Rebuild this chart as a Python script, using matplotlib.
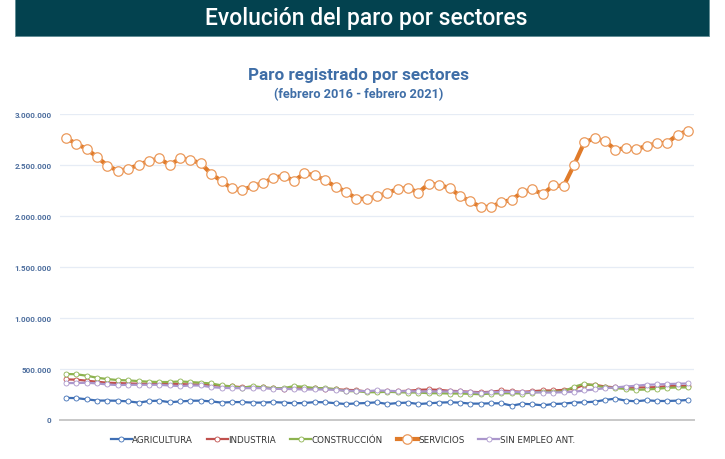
"""
Paro registrado por sectores (febrero 2016 - febrero 2021)
Line chart with one series per sector, values read off the reference.
"""

import matplotlib
matplotlib.use("Agg")
import matplotlib.pyplot as plt
from matplotlib.patches import Rectangle
from matplotlib.ticker import FuncFormatter, MultipleLocator

#####################################
# Data (thousands of people, monthly, feb-2016 .. feb-2021)
#####################################

agricultura = [
    212, 210, 198, 186, 186, 184, 178, 166, 181, 185, 170, 177, 184, 185, 178,
    166, 171, 171, 166, 166, 171, 166, 160, 162, 171, 169, 160, 152, 158,
    162, 169, 152, 162, 166, 152, 159, 166, 169, 166, 156, 156, 159, 159, 136,
    155, 149, 139, 152, 156, 166, 169, 175, 192, 205, 185, 179, 189, 182, 182, 185, 192,
]
industria = [
    394, 391, 381, 371, 361, 358, 354, 351, 351, 348, 351, 348, 344, 344, 341,
    330, 325, 318, 318, 315, 305, 298, 305, 308, 305, 301, 298, 291, 288,
    275, 278, 278, 278, 282, 291, 295, 291, 282, 278, 272, 268, 272, 285, 278,
    272, 278, 285, 285, 291, 301, 341, 341, 324, 315, 308, 315, 315, 318, 328, 328, 330,
]
construccion = [
    447, 444, 430, 410, 397, 387, 384, 377, 371, 368, 368, 374, 368, 361, 354,
    335, 325, 311, 328, 315, 308, 308, 328, 321, 308, 308, 298, 278, 278,
    268, 268, 272, 268, 265, 265, 258, 258, 255, 255, 252, 248, 255, 258, 258,
    255, 265, 272, 272, 275, 321, 351, 334, 315, 308, 301, 291, 295, 301, 311, 315, 315,
]
servicios = [
    2764, 2708, 2656, 2577, 2492, 2443, 2459, 2502, 2538, 2564, 2498, 2564, 2551, 2515, 2413,
    2341, 2269, 2252, 2292, 2321, 2374, 2393, 2344, 2416, 2400, 2347, 2288, 2236, 2170,
    2164, 2193, 2223, 2265, 2272, 2229, 2315, 2305, 2272, 2197, 2141, 2088, 2088, 2134, 2157,
    2233, 2259, 2213, 2298, 2292, 2498, 2721, 2761, 2734, 2649, 2666, 2652, 2688, 2711, 2718,
    2797, 2836,
]
sin_empleo = [
    358, 358, 361, 354, 344, 338, 341, 341, 341, 341, 334, 328, 334, 334, 318,
    311, 308, 308, 308, 308, 301, 301, 298, 295, 295, 295, 291, 282, 282,
    278, 285, 282, 278, 278, 275, 275, 275, 275, 275, 268, 262, 268, 272, 272,
    268, 268, 265, 265, 268, 272, 285, 295, 308, 315, 324, 331, 341, 344, 348, 351, 354,
]

series = [
    ("AGRICULTURA", agricultura, "#3f6fb5"),
    ("INDUSTRIA", industria, "#c0504d"),
    ("CONSTRUCCIÓN", construccion, "#8db34f"),
    ("SERVICIOS", servicios, "#e07b2a"),
    ("SIN EMPLEO ANT.", sin_empleo, "#ab97cc"),
]

#####################################
# Figure
#####################################

fig = plt.figure(figsize=(7.25, 4.6), dpi=100)
fig.patch.set_facecolor("white")

# dark banner with the page title
fig.add_artist(Rectangle((15 / 725, 1 - 37 / 460), 694 / 725, 37 / 460,
                         transform=fig.transFigure, facecolor="#03424f",
                         edgecolor="#5f8b94", linewidth=0.6))
fig.text(366 / 725, 1 - 18 / 460, "Evolución del paro por sectores",
         ha="center", va="center", color="white", fontsize=16.5,
         fontweight="medium", family="Roboto")

title_color = "#3f6ea7"
fig.text(359 / 725, 1 - 76 / 460, "Paro registrado por sectores",
         ha="center", va="center", color=title_color, fontsize=12.3,
         fontweight="bold", family="Roboto")
fig.text(359 / 725, 1 - 95 / 460, "(febrero 2016 - febrero 2021)",
         ha="center", va="center", color=title_color, fontsize=9.2,
         fontweight="bold", family="Roboto")

ax = fig.add_axes([60 / 725, 1 - 420.5 / 460, 634 / 725, 305.5 / 460])

x = list(range(len(servicios)))
for name, vals, color in series:
    y = [v * 1000 for v in vals]
    if name == "SERVICIOS":
        ax.plot(x, y, color=color, linewidth=3.0, marker="o", markersize=6.8,
                markerfacecolor="white", markeredgecolor="#eb9a5c",
                markeredgewidth=0.9, label=name, zorder=3)
    else:
        ax.plot(x, y, color=color, linewidth=1.6, marker="o", markersize=3.6,
                markerfacecolor="white", markeredgecolor=color,
                markeredgewidth=0.6, label=name, zorder=3)

ax.set_xlim(-0.58, 60.58)
ax.set_ylim(0, 3000000)
ax.yaxis.set_major_locator(MultipleLocator(500000))
ax.yaxis.set_major_formatter(
    FuncFormatter(lambda v, _: f"{int(v):,}".replace(",", ".")))
ax.set_xticks([])
ax.tick_params(axis="y", length=0, pad=6, labelsize=5.8,
               labelcolor="#4d6e9e")
for lbl in ax.get_yticklabels():
    lbl.set_fontweight("bold")
    lbl.set_family("Roboto")

ax.grid(axis="y", color="#e6ecf5", linewidth=0.9, zorder=0)
for side in ["left", "right", "top"]:
    ax.spines[side].set_visible(False)
ax.spines["bottom"].set_color("#c8c8c8")
ax.spines["bottom"].set_linewidth(1.4)

ax.legend(loc="center", bbox_to_anchor=(0.446, -0.067), ncol=5, frameon=False,
          fontsize=6.3, handlelength=2.4, columnspacing=1.6, handletextpad=0.05,
          labelcolor="#333333")

fig.savefig("out.png", dpi=100)
